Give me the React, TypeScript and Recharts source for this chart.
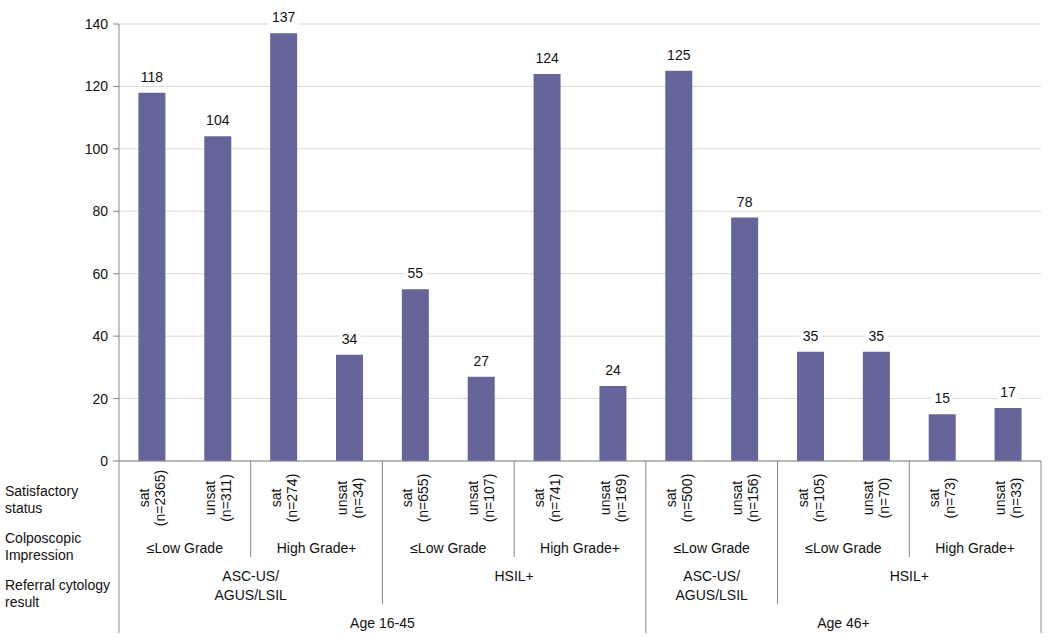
import { BarChart, Bar, XAxis, YAxis, CartesianGrid, LabelList } from 'recharts'

// bar values, one per satisfactory-status column
const satStatus = ['sat', 'unsat', 'sat', 'unsat', 'sat', 'unsat', 'sat', 'unsat', 'sat', 'unsat', 'sat', 'unsat', 'sat', 'unsat']
const sampleSizes = [2365, 311, 274, 34, 655, 107, 741, 169, 500, 156, 105, 70, 73, 33]
const counts = [118, 104, 137, 34, 55, 27, 124, 24, 125, 78, 35, 35, 15, 17]

// grouping levels of the category axis: [label, number of columns]
const impressionGroups: [string, number][] = [
    ['≤Low Grade', 2],
    ['High Grade+', 2],
    ['≤Low Grade', 2],
    ['High Grade+', 2],
    ['≤Low Grade', 2],
    ['≤Low Grade', 2],
    ['High Grade+', 2],
]
const cytologyGroups: [string[], number][] = [
    [['ASC-US/', 'AGUS/LSIL'], 4],
    [['HSIL+'], 4],
    [['ASC-US/', 'AGUS/LSIL'], 2],
    [['HSIL+'], 4],
]
const ageGroups: [string, number][] = [
    ['Age 16-45', 8],
    ['Age 46+', 6],
]
const rowLabels = [
    ['Satisfactory', 'status'],
    ['Colposcopic', 'Impression'],
    ['Referral cytology', 'result'],
]
const yTicks = [0, 20, 40, 60, 80, 100, 120, 140]

const data = counts.map((value, i) => ({
    id: i,
    status: satStatus[i],
    n: sampleSizes[i],
    value,
}))

const WIDTH = 1050
const HEIGHT = 638
const PLOT_LEFT = 119
const PLOT_RIGHT = 1041
const AXIS_HEIGHT = 177
const FONT = '"Liberation Sans", Arial, sans-serif'
const TEXT = '#111'
const AXIS = '#868686'
const BAR = '#65659a'

const STEP = (PLOT_RIGHT - PLOT_LEFT) / counts.length

function starts<T>(groups: [T, number][]) {
    let pos = 0
    return groups.map(([label, size]) => {
        const g = { label, start: pos, size }
        pos += size
        return g
    })
}

const impressionStarts = starts(impressionGroups)
const cytologyStarts = starts(cytologyGroups)
const ageStarts = starts(ageGroups)

// how deep the separator after column i goes (1 = none)
const boundaryLevel = counts.map((_, i) => {
    const ends = (gs: { start: number; size: number }[]) => gs.some((g) => g.start + g.size - 1 === i)
    if (ends(ageStarts)) return 4
    if (ends(cytologyStarts)) return 3
    if (ends(impressionStarts)) return 2
    return 1
})
const lineDepth: Record<number, number> = { 2: 96, 3: 143, 4: 172 }

function CategoryTick(props: any) {
    const { x, y, payload } = props
    const i = payload.index
    const cy = y + 37
    const imp = impressionStarts.find((g) => g.start === i)
    const cyt = cytologyStarts.find((g) => g.start === i)
    const age = ageStarts.find((g) => g.start === i)
    const lvl = boundaryLevel[i]

    return (
        <g fontFamily={FONT} fill={TEXT}>
            <text
                x={x}
                y={cy}
                fontSize={14}
                textAnchor="middle"
                transform={`rotate(-90, ${x}, ${cy})`}
            >
                <tspan x={x} dy={-3}>{satStatus[i]}</tspan>
                <tspan x={x} dy={16}>{`(n=${sampleSizes[i]})`}</tspan>
            </text>

            {i === 0 && (
                <>
                    <line x1={x - STEP / 2} x2={x - STEP / 2} y1={y} y2={y + lineDepth[4]} stroke={AXIS} />
                    {rowLabels.map((lines, r) => (
                        <text key={r} x={5} y={y + 35 + r * 47} fontSize={14} textAnchor="start">
                            <tspan x={5} dy={0}>{lines[0]}</tspan>
                            <tspan x={5} dy={17}>{lines[1]}</tspan>
                        </text>
                    ))}
                </>
            )}

            {lvl > 1 && (
                <line x1={x + STEP / 2} x2={x + STEP / 2} y1={y} y2={y + lineDepth[lvl]} stroke={AXIS} />
            )}

            {imp && (
                <text x={x + ((imp.size - 1) * STEP) / 2} y={y + 92} fontSize={14} textAnchor="middle">
                    {imp.label}
                </text>
            )}

            {cyt && (
                <text x={x + ((cyt.size - 1) * STEP) / 2} y={y + 120} fontSize={14} textAnchor="middle">
                    {cyt.label.map((line, k) => (
                        <tspan key={k} x={x + ((cyt.size - 1) * STEP) / 2} dy={k === 0 ? 0 : 19}>
                            {line}
                        </tspan>
                    ))}
                </text>
            )}

            {age && (
                <text x={x + ((age.size - 1) * STEP) / 2} y={y + 167} fontSize={14} textAnchor="middle">
                    {age.label}
                </text>
            )}
        </g>
    )
}

function ValueLabel(props: any) {
    const { x, y, width, value } = props
    const cx = x + width / 2
    const w = String(value).length * 8 + 6
    return (
        <g>
            <rect x={cx - w / 2} y={y - 25} width={w} height={18} fill="#fff" />
            <text x={cx} y={y - 11} textAnchor="middle" fontSize={14} fontFamily={FONT} fill={TEXT}>
                {value}
            </text>
        </g>
    )
}

export default function App() {
    return (
        <div style={{ position: 'absolute', left: 0, top: 0, width: WIDTH, height: HEIGHT, background: '#fff' }}>
            <BarChart
                width={WIDTH}
                height={HEIGHT}
                data={data}
                margin={{ top: 24, right: WIDTH - PLOT_RIGHT, left: 0, bottom: 0 }}
                barCategoryGap="29.5%"
            >
                <CartesianGrid vertical={false} stroke="#d9d9d9" />
                <XAxis
                    dataKey="id"
                    height={AXIS_HEIGHT}
                    interval={0}
                    tickLine={false}
                    tickSize={0}
                    tickMargin={0}
                    axisLine={{ stroke: AXIS }}
                    tick={(p: any) => <CategoryTick {...p} />}
                />
                <YAxis
                    width={PLOT_LEFT}
                    domain={[0, 140]}
                    ticks={yTicks}
                    tickSize={6}
                    tickMargin={5}
                    axisLine={{ stroke: AXIS }}
                    tickLine={{ stroke: AXIS }}
                    tick={{ fill: TEXT, fontSize: 14, fontFamily: FONT }}
                />
                <Bar dataKey="value" fill={BAR} isAnimationActive={false}>
                    <LabelList dataKey="value" content={(p: any) => <ValueLabel {...p} />} />
                </Bar>
            </BarChart>
        </div>
    )
}
